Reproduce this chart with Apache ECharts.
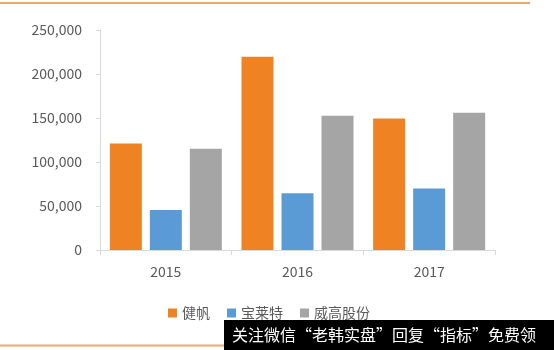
<!DOCTYPE html>
<html>
<head>
<meta charset="utf-8">
<script src="https://cdn.jsdelivr.net/npm/echarts@6/dist/echarts.min.js"></script>
<style>
  html, body { margin: 0; padding: 0; background: #fff; }
  #main { width: 554px; height: 350px; }
</style>
</head>
<body>
<div id="main"></div>
<script>
var years = ['2015', '2016', '2017'];
var seriesNames = ['健帆', '宝莱特', '威高股份'];
var jianfan = [121000, 219500, 149500];
var baolaite = [45500, 64500, 70000];
var weigao = [115000, 152500, 156000];
var yTicks = [0, 50000, 100000, 150000, 200000, 250000];

var colors = ['#EF8223', '#5B9BD5', '#A5A5A5'];
var font = 'Noto Sans CJK SC';

var chart = echarts.init(document.getElementById('main'));

function addCommas(v) {
    return String(v).replace(/\B(?=(\d{3})+(?!\d))/g, ',');
}

var option = {
    color: colors,
    animation: false,
    textStyle: { fontFamily: font },
    grid: { left: 100, right: 59, top: 30, bottom: 100 },
    legend: {
        left: 163,
        top: 301,
        itemWidth: 9,
        itemHeight: 9,
        itemGap: 17,
        icon: 'rect',
        textStyle: { fontSize: 14, color: '#595959', fontFamily: font },
        data: seriesNames
    },
    xAxis: {
        type: 'category',
        data: years,
        axisLine: { lineStyle: { color: '#d9d9d9' } },
        axisTick: { show: true, length: 5, lineStyle: { color: '#d9d9d9' } },
        axisLabel: { fontSize: 14, color: '#595959', margin: 15 }
    },
    yAxis: {
        type: 'value',
        min: yTicks[0],
        max: yTicks[yTicks.length - 1],
        interval: 50000,
        axisLine: { show: true, lineStyle: { color: '#d9d9d9' } },
        axisTick: { show: true, length: 4, lineStyle: { color: '#d9d9d9' } },
        splitLine: { show: false },
        axisLabel: {
            fontSize: 14,
            color: '#595959',
            margin: 18,
            formatter: function (v) { return addCommas(v); }
        }
    },
    series: [
        { name: seriesNames[0], type: 'bar', data: jianfan, barWidth: 32, barGap: '25%' },
        { name: seriesNames[1], type: 'bar', data: baolaite, barWidth: 32, barGap: '25%' },
        { name: seriesNames[2], type: 'bar', data: weigao, barWidth: 32, barGap: '25%' }
    ],
    graphic: [
        {
            type: 'line',
            shape: { x1: 0, y1: 3, x2: 530, y2: 3 },
            style: { stroke: '#EBAA6E', lineWidth: 2 }
        },
        {
            type: 'line',
            shape: { x1: 0, y1: 345.5, x2: 224, y2: 345.5 },
            style: { stroke: '#EBAA6E', lineWidth: 2 }
        },
        {
            type: 'rect',
            shape: { x: 224, y: 320, width: 330, height: 30 },
            style: { fill: '#000' }
        },
        {
            type: 'text',
            x: 232,
            y: 335,
            style: {
                text: '关注微信“老韩实盘”回复“指标”免费领',
                fill: '#fff',
                font: '16px "Noto Sans CJK SC"',
                verticalAlign: 'middle'
            }
        }
    ]
};

chart.setOption(option);
</script>
</body>
</html>
